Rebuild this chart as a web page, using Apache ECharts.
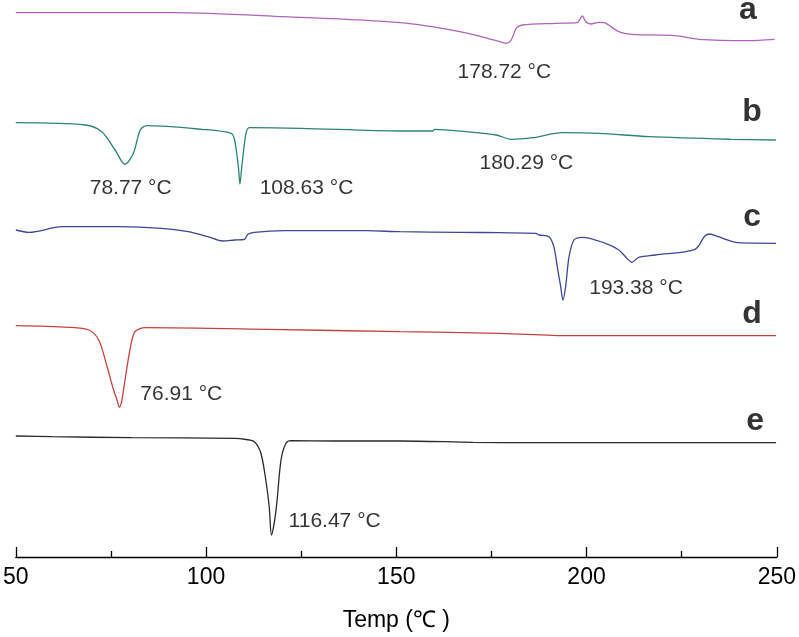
<!DOCTYPE html>
<html>
<head>
<meta charset="utf-8">
<script src="https://cdn.jsdelivr.net/npm/echarts@6/dist/echarts.min.js"></script>
<style>html,body{margin:0;padding:0;background:#fff;}#chart{width:799px;height:637px;}</style>
</head>
<body>
<div id="chart"></div>
<script>
// Temperature (°C) and signal (arbitrary, offset per curve)
const tempA = [50, 91.7, 120.5, 151, 166.7, 176.3, 178.9, 180.2, 181.5, 183.1, 191.9, 197.5, 198.9, 199.8, 201.1, 203.3, 204.6, 208.5, 211.9, 223.3, 229.4, 242.4, 249.4];
const valA  = [544.3, 544.3, 540.3, 534.3, 525.3, 516.3, 513.7, 517, 528.7, 532, 533.7, 534.3, 541, 535.3, 533, 534.7, 534.3, 525.3, 522.7, 521.3, 517.7, 516.3, 517.7];

const tempB = [50, 68.3, 72.6, 76.1, 78.7, 80.9, 82.7, 84.4, 98.8, 106.6, 107.5, 108.5, 108.9, 109.4, 110.5, 111.4, 124.9, 151, 159.6, 160.1, 168.4, 176.3, 180.2, 185.8, 193.7, 203.3, 216.4, 238.0, 249.8];
const valB  = [434.3, 432, 425.3, 407, 392.7, 403.7, 427, 431.3, 427.7, 423.7, 417, 390.3, 373, 390.3, 423.7, 429.3, 428.7, 426, 426, 427.7, 425.3, 422, 417.7, 419.3, 424.3, 423.7, 420.3, 417.7, 417];

const tempC = [50, 53.5, 62.2, 77, 88.3, 95.3, 100.5, 104.4, 107.5, 110.1, 111, 112.7, 120.5, 142.3, 151, 166.7, 177.1, 186.7, 187.5, 190.1, 191.4, 192.3, 193.2, 193.8, 194.5, 195.4, 196.7, 198.9, 205, 208.5, 210.6, 211.9, 213.7, 218.1, 228.5, 231.1, 232.4, 234.6, 239.8, 249.8];
const valC  = [327, 324.7, 330.3, 330.3, 328.7, 325.3, 320.3, 316, 317, 317.7, 322.7, 324.7, 326.3, 326.3, 325.3, 324.7, 324.3, 323.7, 322, 320.3, 310.3, 290.3, 270.3, 257, 270.3, 300.3, 317, 319.7, 313.7, 307, 298.7, 294.7, 299.7, 302, 307.7, 321, 323, 320.3, 314.3, 313.7];

const tempD = [50, 63.9, 69.2, 71.8, 74, 75.7, 76.6, 77.2, 77.9, 78.7, 80, 81.3, 84, 116.2, 151, 177.1, 195.4, 249.8];
const valD  = [231.3, 229.7, 227, 217, 190.3, 167, 157, 149.7, 157, 177, 207, 225.3, 229.3, 227.7, 225.3, 223.7, 221.3, 221.3];

const tempE = [50, 59.6, 80.5, 107.5, 110.5, 112.7, 114.4, 115.7, 116.6, 117.2, 118.4, 119.7, 121.0, 122.3, 133.5, 151, 170.1, 185, 249.8];
const valE  = [121, 120.3, 119.3, 118.7, 117.5, 115.3, 104, 77, 50.3, 22, 47, 97, 113.7, 116.3, 116, 116, 114.7, 114.3, 114.3];

// Peak annotations
const annoText = ['178.72 °C', '78.77 °C', '108.63 °C', '180.29 °C', '193.38 °C', '76.91 °C', '116.47 °C'];
const annoTemp = [178.4, 80.2, 126.4, 184.2, 213.0, 93.5, 133.8];
const annoVal  = [485, 369, 369, 394, 268.5, 163, 35.5];

// Curve letters
const letterText = ['a', 'b', 'c', 'd', 'e'];
const letterTemp = [242.4, 243.5, 243.5, 243.5, 244.3];
const letterVal  = [547, 445, 340, 243, 136];

const xTicks = [50, 100, 150, 200, 250];

function zip(t, v) { return t.map((x, i) => [x, v[i]]); }

const colors = ['#b062bd', '#2b8277', '#3b4796', '#c4423c', '#2a2a2a'];
const curves = [[tempA, valA], [tempB, valB], [tempC, valC], [tempD, valD], [tempE, valE]];

const FONT = '"Liberation Sans", Arial, sans-serif';

const series = curves.map((c, i) => ({
  type: 'line',
  data: zip(c[0], c[1]),
  showSymbol: false,
  smooth: 0.3,
  lineStyle: { color: colors[i], width: 1.3 },
  clip: false,
  z: 2
}));

series.push({
  type: 'scatter',
  symbolSize: 0,
  data: annoText.map((t, i) => ({ name: t, value: [annoTemp[i], annoVal[i]] })),
  label: { show: true, position: 'inside', formatter: '{b}', fontSize: 21, color: '#000', fontFamily: FONT },
  clip: false,
  z: 5
});
series.push({
  type: 'scatter',
  symbolSize: 0,
  data: letterText.map((t, i) => ({ name: t, value: [letterTemp[i], letterVal[i]] })),
  label: { show: true, position: 'inside', formatter: '{b}', fontSize: 32, fontWeight: 'bold', color: '#000', fontFamily: FONT },
  clip: false,
  z: 5
});

const chart = echarts.init(document.getElementById('chart'), null, { renderer: 'canvas' });
chart.setOption({
  animation: false,
  backgroundColor: '#fff',
  grid: { left: 13, right: 20, top: 0, bottom: 80, containLabel: false },
  xAxis: {
    type: 'value',
    min: xTicks[0],
    max: xTicks[xTicks.length - 1],
    interval: 50,
    name: 'Temp (℃ )',
    nameLocation: 'middle',
    nameGap: 52,
    nameTextStyle: { fontSize: 23, color: '#000', fontFamily: FONT },
    axisLine: { show: true, lineStyle: { color: '#000', width: 1.3 } },
    axisTick: { show: true, inside: true, length: 10, lineStyle: { color: '#000', width: 1.3 } },
    minorTick: { show: true, splitNumber: 2, length: 6, lineStyle: { color: '#000', width: 1.3 } },
    axisLabel: { fontSize: 23, color: '#000', margin: 9, fontFamily: FONT },
    splitLine: { show: false }
  },
  yAxis: {
    type: 'value',
    min: 0,
    max: 557,
    show: false,
    splitLine: { show: false }
  },
  series: series
});
</script>
</body>
</html>
